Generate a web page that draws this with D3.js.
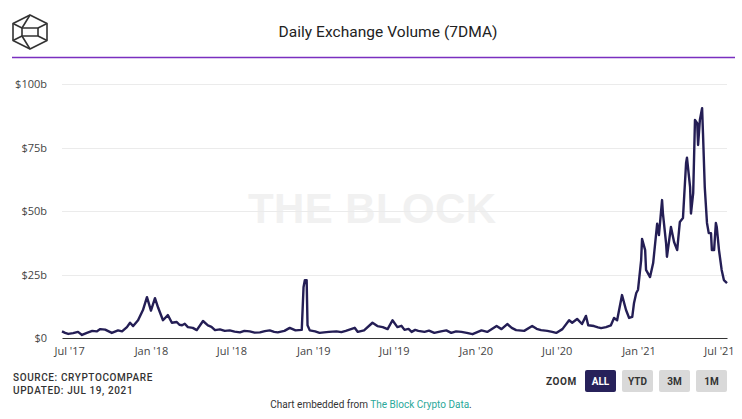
<!DOCTYPE html>
<html>
<head>
<meta charset="utf-8">
<script src="https://cdn.jsdelivr.net/npm/d3@7"></script>
<style>
  html, body { margin: 0; padding: 0; background: #fff; }
  svg { display: block; }
</style>
</head>
<body>
<svg id="chart" width="742" height="419"></svg>
<script>
// ---- Data (daily exchange volume, 7DMA, billions USD) ----
const title = "Daily Exchange Volume (7DMA)";
const dates = [
  "2017-06-15","2017-06-22","2017-06-29","2017-07-10","2017-07-21","2017-07-30","2017-08-10","2017-08-22",
  "2017-09-01","2017-09-09","2017-09-20","2017-10-05","2017-10-19","2017-10-28","2017-11-08","2017-11-15",
  "2017-11-22","2017-12-03","2017-12-14","2017-12-23","2018-01-01","2018-01-10","2018-01-17","2018-01-28",
  "2018-02-08","2018-02-17","2018-02-28","2018-03-06","2018-03-12","2018-03-18","2018-03-25","2018-04-05","2018-04-14","2018-04-28","2018-05-09",
  "2018-05-17","2018-05-25","2018-06-05","2018-06-16","2018-06-27","2018-07-08","2018-07-20","2018-07-30","2018-08-11","2018-08-22","2018-09-03","2018-09-14","2018-09-25","2018-10-05","2018-10-13",
  "2018-10-28","2018-11-09","2018-11-22","2018-12-06","2018-12-10","2018-12-13","2018-12-17","2018-12-19",
  "2018-12-24","2019-01-05","2019-01-15","2019-01-25","2019-02-05","2019-02-22","2019-03-05","2019-03-15","2019-03-25","2019-04-04","2019-04-11","2019-04-25",
  "2019-05-14","2019-05-25","2019-06-06","2019-06-17","2019-06-28","2019-07-09","2019-07-18","2019-07-25","2019-08-03","2019-08-10",
  "2019-08-18","2019-08-25","2019-09-08","2019-09-18","2019-09-30","2019-10-15","2019-10-27","2019-11-07","2019-11-18","2019-11-30","2019-12-12",
  "2019-12-25","2020-01-14","2020-01-27","2020-02-17","2020-02-28","2020-03-12","2020-03-22","2020-04-01","2020-04-19",
  "2020-05-07","2020-05-17","2020-05-27","2020-06-10","2020-06-21","2020-06-30","2020-07-14","2020-07-29","2020-08-05","2020-08-16",
  "2020-08-27","2020-09-05","2020-09-10","2020-09-23","2020-10-02","2020-10-09","2020-10-20","2020-10-31","2020-11-07",
  "2020-11-14","2020-11-25","2020-12-04","2020-12-11","2020-12-18","2020-12-22","2020-12-27","2020-12-31",
  "2021-01-07","2021-01-09","2021-01-16","2021-01-18","2021-01-27","2021-02-03","2021-02-12","2021-02-16",
  "2021-02-23","2021-02-25","2021-03-04","2021-03-06","2021-03-15","2021-03-22","2021-03-29","2021-04-04",
  "2021-04-11","2021-04-18","2021-04-20","2021-04-27","2021-04-29","2021-05-04","2021-05-08","2021-05-13",
  "2021-05-15","2021-05-19","2021-05-24","2021-05-26","2021-05-30","2021-06-04","2021-06-08","2021-06-13",
  "2021-06-15","2021-06-20","2021-06-24","2021-06-26","2021-07-01","2021-07-07","2021-07-12","2021-07-19"
];
const volumes = [
  2.6, 2.0, 1.6, 1.9, 2.4, 1.2, 2.0, 2.8,
  2.6, 3.5, 3.3, 2.0, 3.0, 2.6, 4.3, 6.0,
  4.7, 7.0, 11.0, 16.1, 10.8, 15.7, 12.0, 7.0,
  9.0, 6.0, 6.3, 5.2, 5.0, 5.6, 4.3, 4.0, 3.1, 6.7, 5.0,
  4.4, 3.1, 3.4, 2.8, 3.0, 2.5, 2.2, 2.8, 2.6, 2.1, 2.2, 2.7, 3.0, 2.4, 2.2,
  2.8, 4.0, 3.0, 3.2, 20.0, 22.8, 22.8, 5.0,
  3.0, 2.6, 2.0, 2.2, 2.4, 2.6, 2.3, 2.8, 3.4, 4.0, 2.4, 3.0,
  6.0, 4.7, 4.3, 3.5, 7.0, 4.3, 4.8, 3.2, 3.6, 2.4,
  3.2, 2.8, 2.4, 2.9, 2.0, 2.6, 3.0, 2.0, 2.6, 2.4, 2.0,
  1.5, 3.0, 2.4, 4.7, 3.5, 5.5, 4.0, 3.1, 2.8,
  4.7, 3.6, 3.1, 2.8, 2.4, 2.0, 3.5, 7.0, 6.0, 7.5,
  5.5, 8.7, 5.0, 4.7, 4.2, 3.9, 4.3, 5.0, 7.9,
  7.0, 16.9, 11.0, 7.9, 8.3, 13.8, 17.7, 19.0,
  30.7, 39.0, 34.6, 26.8, 24.0, 29.5, 45.0, 40.5,
  54.3, 49.0, 37.4, 32.0, 43.7, 37.8, 34.6, 45.7,
  47.2, 68.9, 71.0, 59.4, 49.0, 57.0, 85.8, 84.6,
  76.0, 85.8, 90.5, 80.7, 59.4, 45.3, 41.3, 41.3,
  34.6, 34.6, 45.3, 43.7, 34.6, 26.8, 22.8, 21.6
];
const yTicks = [0, 25, 50, 75, 100];
const yTickLabels = ["$0", "$25b", "$50b", "$75b", "$100b"];
const xTickDates = ["2017-07-01","2018-01-01","2018-07-01","2019-01-01","2019-07-01","2020-01-01","2020-07-01","2021-01-01","2021-07-01"];
const xTickLabels = ["Jul '17","Jan '18","Jul '18","Jan '19","Jul '19","Jan '20","Jul '20","Jan '21","Jul '21"];
const zoomButtons = ["ALL", "YTD", "3M", "1M"];

// ---- Drawing ----
const parse = d3.utcParse("%Y-%m-%d");
const data = dates.map((d, i) => ({ date: parse(d), value: volumes[i] }));

const svg = d3.select("#chart");
const plotLeft = 62, plotRight = 727, plotTop = 84, plotBottom = 338;

const x = d3.scaleUtc()
  .domain([parse("2017-06-15"), parse("2021-07-19")])
  .range([plotLeft, plotRight]);
const y = d3.scaleLinear().domain([0, 100]).range([plotBottom, plotTop]);

// Logo (cube outline)
const logo = svg.append("g").attr("transform", "translate(13,15)")
  .attr("fill", "none").attr("stroke", "#333").attr("stroke-width", 1.6).attr("stroke-linejoin", "round");
logo.append("path").attr("d", "M17,0 L34,8.5 L34,25.5 L17,34 L0,25.5 L0,8.5 Z");
logo.append("path").attr("d", "M0,8.5 L9,13 L25,13 L34,8.5");
logo.append("path").attr("d", "M0,25.5 L9,21 L25,21 L34,25.5");
logo.append("path").attr("d", "M9,13 L9,21 M25,13 L25,21 M17,0 L9,13 M17,34 L9,21");

// Title
svg.append("text")
  .attr("x", 388).attr("y", 37)
  .attr("text-anchor", "middle")
  .attr("font-family", "Roboto, 'Noto Sans', sans-serif")
  .attr("font-size", 15.5)
  .attr("fill", "#222")
  .attr("textLength", 219)
  .text(title);

// Purple rule
svg.append("line")
  .attr("x1", 12).attr("x2", 735).attr("y1", 57.5).attr("y2", 57.5)
  .attr("stroke", "#7a2fc0").attr("stroke-width", 1.3);

// Watermark
svg.append("text")
  .attr("x", 372).attr("y", 223)
  .attr("text-anchor", "middle")
  .attr("font-family", "'Liberation Sans', Arial, sans-serif")
  .attr("font-weight", "bold")
  .attr("font-size", 42)
  .attr("fill", "#f1f1f1")
  .attr("textLength", 248)
  .text("THE BLOCK");

// Gridlines
svg.append("g").selectAll("line").data(yTicks.filter(t => t > 0)).join("line")
  .attr("x1", plotLeft).attr("x2", plotRight)
  .attr("y1", d => Math.round(y(d)) + 0.5).attr("y2", d => Math.round(y(d)) + 0.5)
  .attr("stroke", "#ebebeb").attr("stroke-width", 1);

// Y axis labels
const yAxis = d3.axisLeft(y).tickValues(yTicks)
  .tickFormat((d, i) => yTickLabels[i]).tickSize(0).tickPadding(0);
const gy = svg.append("g").attr("transform", `translate(47,0)`).call(yAxis);
gy.select(".domain").remove();
gy.selectAll("text")
  .attr("font-family", "'Open Sans', 'Noto Sans', sans-serif")
  .attr("font-size", 11).attr("fill", "#444").attr("dy", "0.35em");

// Line
const line = d3.line().x(d => x(d.date)).y(d => y(d.value)).curve(d3.curveLinear);
svg.append("path").datum(data)
  .attr("d", line)
  .attr("fill", "none")
  .attr("stroke", "#241e55")
  .attr("stroke-width", 2.4)
  .attr("stroke-linejoin", "round");

// X axis
const xAxis = d3.axisBottom(x).tickValues(xTickDates.map(parse))
  .tickFormat((d, i) => xTickLabels[i]).tickSize(0).tickPadding(9);
const gx = svg.append("g").attr("transform", `translate(0,${plotBottom})`).call(xAxis);
gx.select(".domain").attr("stroke", "#333").attr("stroke-width", 1.2);
gx.selectAll("text")
  .attr("font-family", "'Open Sans', 'Noto Sans', sans-serif")
  .attr("font-size", 11).attr("fill", "#444");

// Source text
const src = svg.append("g")
  .attr("font-family", "Roboto, 'Liberation Sans', sans-serif")
  .attr("font-size", 10).attr("font-weight", "500").attr("fill", "#333")
  .attr("letter-spacing", 0.6);
src.append("text").attr("x", 13).attr("y", 381).text("SOURCE: CRYPTOCOMPARE");
src.append("text").attr("x", 13).attr("y", 394).text("UPDATED: JUL 19, 2021");

// Zoom buttons
svg.append("text").attr("x", 546).attr("y", 385)
  .attr("font-family", "Roboto, 'Liberation Sans', sans-serif")
  .attr("font-size", 10).attr("font-weight", "bold").attr("fill", "#333")
  .attr("letter-spacing", 0.6).text("ZOOM");
const btnX = [585, 622, 659, 696];
const btns = svg.append("g").selectAll("g").data(zoomButtons).join("g")
  .attr("transform", (d, i) => `translate(${btnX[i]},370)`);
btns.append("rect").attr("width", 31).attr("height", 22).attr("rx", 2)
  .attr("fill", (d, i) => i === 0 ? "#27215a" : "#d9d9d9");
btns.append("text").attr("x", 15.5).attr("y", 15)
  .attr("text-anchor", "middle")
  .attr("font-family", "Roboto, 'Liberation Sans', sans-serif")
  .attr("font-size", 10).attr("font-weight", "bold")
  .attr("fill", (d, i) => i === 0 ? "#fff" : "#333")
  .text(d => d);

// Footer
const foot = svg.append("text").attr("x", 371).attr("y", 408)
  .attr("text-anchor", "middle")
  .attr("font-family", "Roboto, 'Noto Sans', sans-serif")
  .attr("font-size", 10).attr("fill", "#333");
foot.append("tspan").text("Chart embedded from ");
foot.append("tspan").attr("fill", "#2aa89a").text("The Block Crypto Data");
foot.append("tspan").text(".");
</script>
</body>
</html>
